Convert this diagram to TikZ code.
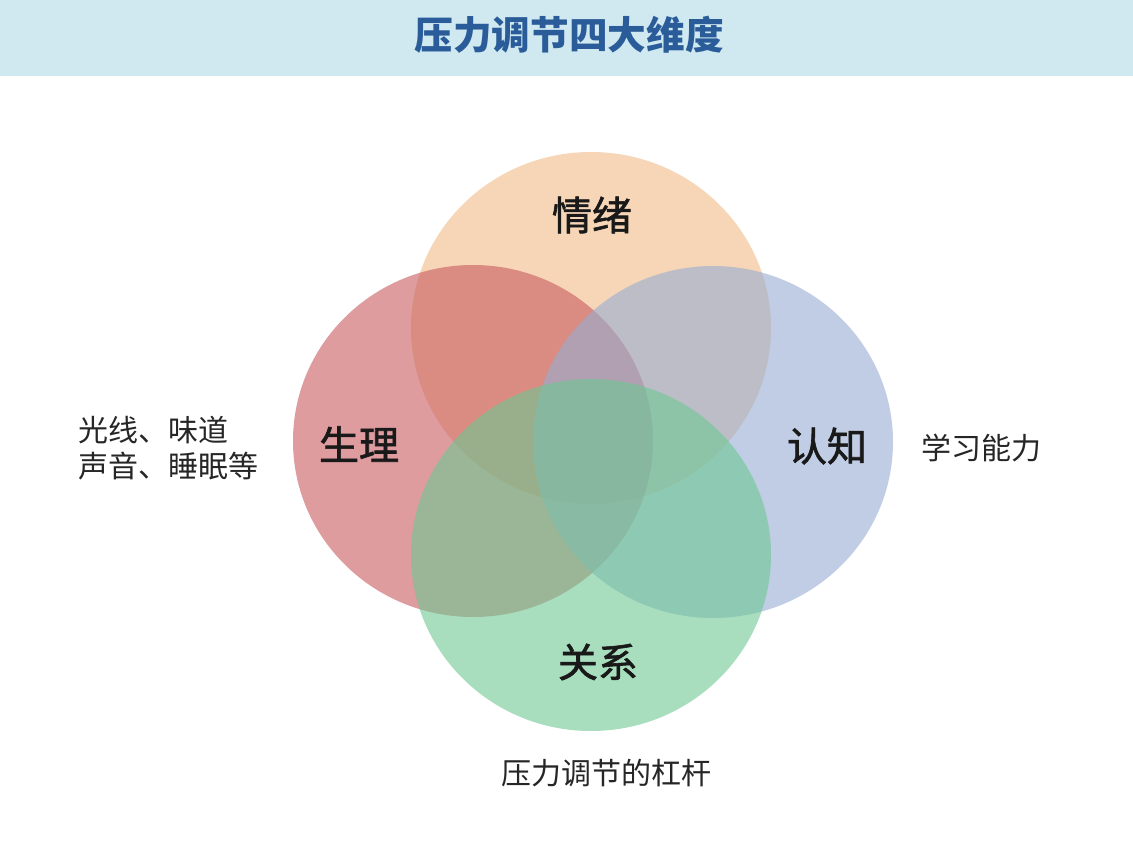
\documentclass[tikz,border=0pt]{standalone}
\usepackage{fontspec}
\setmainfont{Noto Sans CJK SC}
\newfontfamily\cjk{Noto Sans CJK SC}
\newfontfamily\cjkmid{Noto Sans CJK SC}[FakeBold=1.6]
\usetikzlibrary{positioning}
\definecolor{bandblue}{RGB}{208,233,241}
\definecolor{titleblue}{RGB}{43,92,154}
\definecolor{corange}{RGB}{242,188,138}
\definecolor{cred}{RGB}{200,90,95}
\definecolor{cblue}{RGB}{150,173,210}
\definecolor{cgreen}{RGB}{110,200,147}
\tikzset{
  blob/.style={fill opacity=0.6},
  dimlabel/.style={font=\cjkmid\fontsize{30}{36}\selectfont, text=black!90, inner sep=0pt},
  sidetext/.style={font=\cjk\fontsize{22.5}{27}\selectfont, text=black!85, inner sep=0pt},
}
\begin{document}
\begin{tikzpicture}[x=0.75pt,y=-0.75pt]
\useasboundingbox (0,0) rectangle (1133,868);
\fill[white] (0,0) rectangle (1133,868);
\fill[bandblue] (0,0) rectangle (1133,76);
\node[font=\cjk\bfseries\fontsize{29}{34}\selectfont, text=titleblue, inner sep=0pt] (title) at (569,35) {压力调节四大维度};
% circles
\fill[corange,blob] (591,328) ellipse [x radius=180, y radius=176];
\fill[cred,blob] (473,441) ellipse [x radius=180, y radius=176];
\fill[cblue,blob] (713,442) ellipse [x radius=180, y radius=176];
\fill[cgreen,blob] (591,555) ellipse [x radius=180, y radius=176];
% labels
\node[dimlabel] (emo) at (592,215) {情绪};
\node[dimlabel] (phy) at (359,444) {生理};
\node[dimlabel] (cog) at (827,446) {认知};
\node[dimlabel] (rel) at (598,662) {关系};
\node[sidetext, anchor=west] (phyt1) at (78,430) {光线、味道};
\node[sidetext, anchor=west] (phyt2) at (78,466) {声音、睡眠等};
\node[sidetext, anchor=west] (cogt) at (921,448) {学习能力};
\node[sidetext] (relt) at (606,773) {压力调节的杠杆};
\end{tikzpicture}
\end{document}
